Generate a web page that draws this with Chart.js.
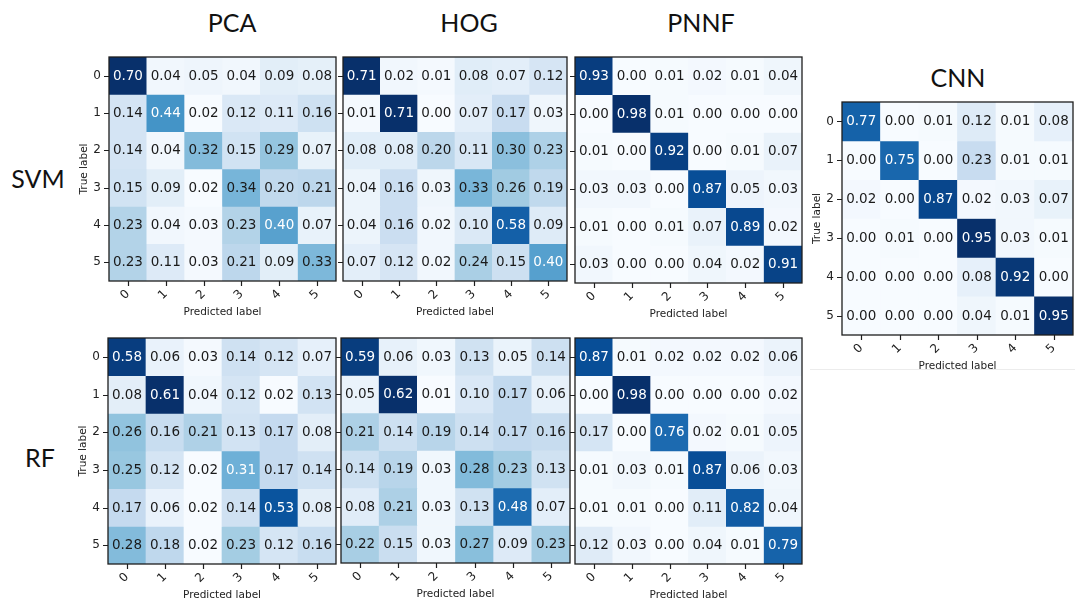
<!DOCTYPE html>
<html>
<head>
<meta charset="utf-8">
<script src="https://cdn.jsdelivr.net/npm/chart.js@4.4.1/dist/chart.umd.min.js"></script>
<style>
  body { margin: 0; background: #fff; }
  #fig { position: relative; width: 1075px; height: 601px; overflow: hidden; background: #fff; }
  #fig canvas { position: absolute; }
  .lbl { position: absolute; font-family: Lato, "Open Sans", sans-serif; font-size: 25px; color: #111;
         transform: translate(-50%, -50%); white-space: nowrap; }
  #cnn-line { position: absolute; left: 810px; top: 369px; width: 265px; height: 1px; background: #ececec; }
</style>
</head>
<body>
<div id="fig">
  <div class="lbl" style="left:232px;top:22px">PCA</div>
  <div class="lbl" style="left:469px;top:22px">HOG</div>
  <div class="lbl" style="left:701px;top:22px">PNNF</div>
  <div class="lbl" style="left:958px;top:77px">CNN</div>
  <div class="lbl" style="left:38px;top:178px">SVM</div>
  <div class="lbl" style="left:40px;top:457px">RF</div>
  <div id="cnn-line"></div>
  <canvas id="pca-svm"></canvas>
  <canvas id="hog-svm"></canvas>
  <canvas id="pnnf-svm"></canvas>
  <canvas id="pca-rf"></canvas>
  <canvas id="hog-rf"></canvas>
  <canvas id="pnnf-rf"></canvas>
  <canvas id="cnn"></canvas>
</div>
<script>
// class labels used for both axes
const classLabels = ['0', '1', '2', '3', '4', '5'];

// confusion matrices, rows = true label, columns = predicted label
const pcaSvm = [
  [0.70, 0.04, 0.05, 0.04, 0.09, 0.08],
  [0.14, 0.44, 0.02, 0.12, 0.11, 0.16],
  [0.14, 0.04, 0.32, 0.15, 0.29, 0.07],
  [0.15, 0.09, 0.02, 0.34, 0.20, 0.21],
  [0.23, 0.04, 0.03, 0.23, 0.40, 0.07],
  [0.23, 0.11, 0.03, 0.21, 0.09, 0.33]
];
const hogSvm = [
  [0.71, 0.02, 0.01, 0.08, 0.07, 0.12],
  [0.01, 0.71, 0.00, 0.07, 0.17, 0.03],
  [0.08, 0.08, 0.20, 0.11, 0.30, 0.23],
  [0.04, 0.16, 0.03, 0.33, 0.26, 0.19],
  [0.04, 0.16, 0.02, 0.10, 0.58, 0.09],
  [0.07, 0.12, 0.02, 0.24, 0.15, 0.40]
];
const pnnfSvm = [
  [0.93, 0.00, 0.01, 0.02, 0.01, 0.04],
  [0.00, 0.98, 0.01, 0.00, 0.00, 0.00],
  [0.01, 0.00, 0.92, 0.00, 0.01, 0.07],
  [0.03, 0.03, 0.00, 0.87, 0.05, 0.03],
  [0.01, 0.00, 0.01, 0.07, 0.89, 0.02],
  [0.03, 0.00, 0.00, 0.04, 0.02, 0.91]
];
const pcaRf = [
  [0.58, 0.06, 0.03, 0.14, 0.12, 0.07],
  [0.08, 0.61, 0.04, 0.12, 0.02, 0.13],
  [0.26, 0.16, 0.21, 0.13, 0.17, 0.08],
  [0.25, 0.12, 0.02, 0.31, 0.17, 0.14],
  [0.17, 0.06, 0.02, 0.14, 0.53, 0.08],
  [0.28, 0.18, 0.02, 0.23, 0.12, 0.16]
];
const hogRf = [
  [0.59, 0.06, 0.03, 0.13, 0.05, 0.14],
  [0.05, 0.62, 0.01, 0.10, 0.17, 0.06],
  [0.21, 0.14, 0.19, 0.14, 0.17, 0.16],
  [0.14, 0.19, 0.03, 0.28, 0.23, 0.13],
  [0.08, 0.21, 0.03, 0.13, 0.48, 0.07],
  [0.22, 0.15, 0.03, 0.27, 0.09, 0.23]
];
const pnnfRf = [
  [0.87, 0.01, 0.02, 0.02, 0.02, 0.06],
  [0.00, 0.98, 0.00, 0.00, 0.00, 0.02],
  [0.17, 0.00, 0.76, 0.02, 0.01, 0.05],
  [0.01, 0.03, 0.01, 0.87, 0.06, 0.03],
  [0.01, 0.01, 0.00, 0.11, 0.82, 0.04],
  [0.12, 0.03, 0.00, 0.04, 0.01, 0.79]
];
const cnnMat = [
  [0.77, 0.00, 0.01, 0.12, 0.01, 0.08],
  [0.00, 0.75, 0.00, 0.23, 0.01, 0.01],
  [0.02, 0.00, 0.87, 0.02, 0.03, 0.07],
  [0.00, 0.01, 0.00, 0.95, 0.03, 0.01],
  [0.00, 0.00, 0.00, 0.08, 0.92, 0.00],
  [0.00, 0.00, 0.00, 0.04, 0.01, 0.95]
];

// matplotlib "Blues" colormap stops
const bluesStops = [
  [247, 251, 255], [222, 235, 247], [198, 219, 239], [158, 202, 225], [107, 174, 214],
  [66, 146, 198], [33, 113, 181], [8, 81, 156], [8, 48, 107]
];
function blues(t) {
  t = Math.max(0, Math.min(1, t));
  const p = t * (bluesStops.length - 1);
  const i = Math.min(Math.floor(p), bluesStops.length - 2);
  const f = p - i;
  const a = bluesStops[i], b = bluesStops[i + 1];
  const c = a.map((v, k) => Math.round(v + (b[k] - v) * f));
  return 'rgb(' + c.join(',') + ')';
}

const Y_AXIS_W = 40;
const X_AXIS_H = 38;
const tickFont = { family: 'DejaVu Sans', size: 12 };
const titleFont = { family: 'DejaVu Sans', size: 10.5 };

// write the value in the middle of each cell
const cellText = {
  id: 'cellText',
  afterDatasetsDraw(chart) {
    const ctx = chart.ctx;
    const mat = chart.options.plugins.cellText.matrix;
    const hi = Math.max(...mat.flat());
    ctx.save();
    ctx.font = '13.5px "DejaVu Sans"';
    ctx.textAlign = 'center';
    ctx.textBaseline = 'middle';
    chart.data.datasets.forEach((ds, r) => {
      chart.getDatasetMeta(r).data.forEach((bar, c) => {
        const v = mat[r][c];
        ctx.fillStyle = v > hi / 2 ? '#ffffff' : '#1a1a1a';
        ctx.fillText(v.toFixed(2), bar.x, (bar.y + bar.base) / 2 + 0.5);
      });
    });
    ctx.restore();
  }
};

// black frame round the plot area plus outward tick marks
const frame = {
  id: 'frame',
  afterDraw(chart) {
    const a = chart.chartArea;
    const ctx = chart.ctx;
    const xs = chart.scales.x, ys = chart.scales.y;
    ctx.save();
    ctx.strokeStyle = '#1e1e1e';
    ctx.lineWidth = 1.3;
    ctx.strokeRect(a.left, a.top, a.right - a.left, a.bottom - a.top);
    ctx.lineWidth = 1.2;
    ctx.beginPath();
    classLabels.forEach((l, i) => {
      const x = Math.round(xs.getPixelForValue(i)) + 0.5;
      ctx.moveTo(x, a.bottom);
      ctx.lineTo(x, a.bottom + 5);
      const y = Math.round(ys.getPixelForValue(i)) + 0.5;
      ctx.moveTo(a.left - 5, y);
      ctx.lineTo(a.left, y);
    });
    ctx.stroke();
    ctx.restore();
  }
};

function noPad(s) {
  s.paddingLeft = 0; s.paddingRight = 0; s.paddingTop = 0; s.paddingBottom = 0;
}

function drawMatrix(id, mat, plot, showYLabels) {
  const [px, py, pw, ph] = plot;
  const canvas = document.getElementById(id);
  canvas.width = Y_AXIS_W + pw + 2;
  canvas.height = 2 + ph + X_AXIS_H;
  canvas.style.left = (px - Y_AXIS_W) + 'px';
  canvas.style.top = (py - 2) + 'px';

  const flat = mat.flat();
  const lo = Math.min(...flat), hi = Math.max(...flat);

  const datasets = mat.map((row, r) => ({
    data: row.map(() => [r - 0.5, r + 0.5]),
    backgroundColor: row.map(v => blues((v - lo) / (hi - lo))),
    borderWidth: 0,
    grouped: false,
    barPercentage: 1,
    categoryPercentage: 1
  }));

  return new Chart(canvas.getContext('2d'), {
    type: 'bar',
    data: { labels: classLabels, datasets: datasets },
    options: {
      responsive: false,
      animation: false,
      layout: { padding: { top: 2, right: 2, left: 0, bottom: 0 } },
      plugins: {
        legend: { display: false },
        tooltip: { enabled: false },
        cellText: { matrix: mat }
      },
      scales: {
        x: {
          type: 'category',
          border: { display: false },
          grid: { display: false, drawTicks: false },
          ticks: { font: tickFont, color: '#222', minRotation: 45, maxRotation: 45, padding: 6 },
          title: { display: true, text: 'Predicted label', font: titleFont, color: '#222', padding: { top: 0, bottom: 0 } },
          afterFit: s => { s.height = X_AXIS_H; noPad(s); }
        },
        y: {
          type: 'linear',
          min: -0.5,
          max: 5.5,
          reverse: true,
          border: { display: false },
          afterBuildTicks: s => { s.ticks = classLabels.map((l, i) => ({ value: i })); },
          grid: { display: false, drawTicks: false },
          ticks: {
            display: showYLabels,
            font: tickFont,
            color: '#222',
            padding: 8,
            callback: v => classLabels[v]
          },
          title: { display: showYLabels, text: 'True label', font: titleFont, color: '#222', padding: { top: 9, bottom: 0 } },
          afterFit: s => { s.width = Y_AXIS_W; noPad(s); }
        }
      }
    },
    plugins: [cellText, frame]
  });
}

drawMatrix('pca-svm', pcaSvm, [109, 57, 227, 224], true);
drawMatrix('hog-svm', hogSvm, [343, 57, 224, 224], false);
drawMatrix('pnnf-svm', pnnfSvm, [575, 57, 227, 226], false);
drawMatrix('pca-rf', pcaRf, [108, 338, 228, 226], true);
drawMatrix('hog-rf', hogRf, [341, 338, 229, 225], false);
drawMatrix('pnnf-rf', pnnfRf, [575, 338, 227, 226], false);
drawMatrix('cnn', cnnMat, [842, 102, 231, 233], true);
</script>
</body>
</html>
